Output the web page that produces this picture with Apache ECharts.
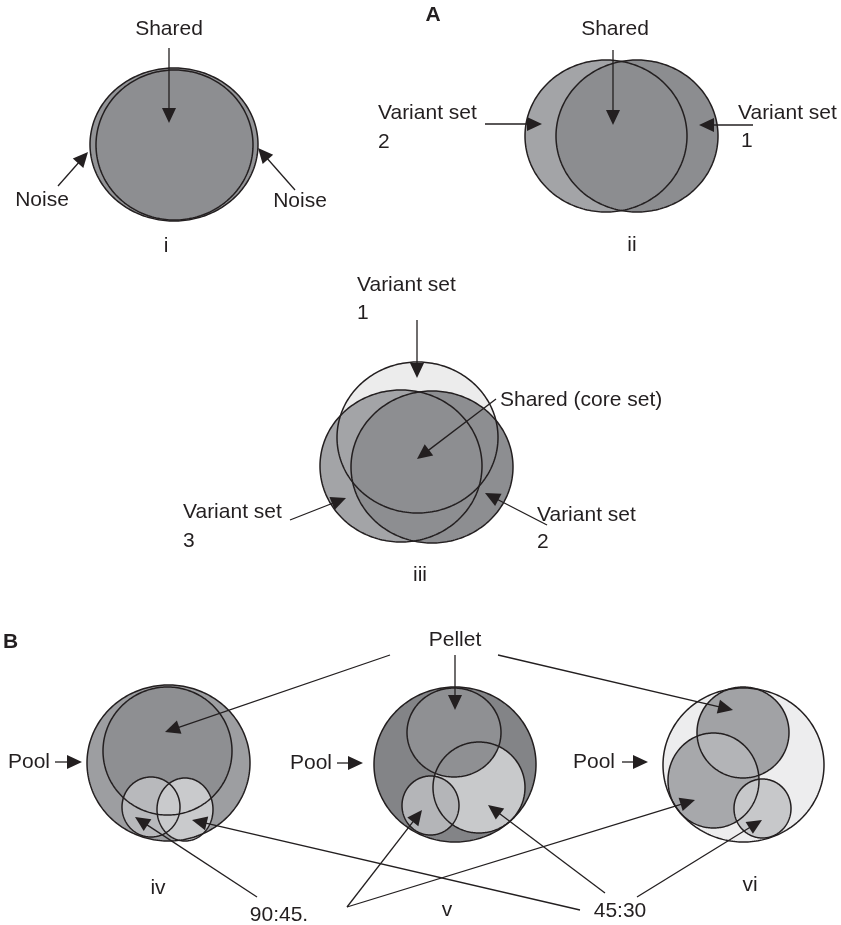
<!DOCTYPE html>
<html><head><meta charset="utf-8">
<script src="https://cdn.jsdelivr.net/npm/echarts@6/dist/echarts.min.js"></script>
<style>html,body{margin:0;padding:0;background:#fff}#c{width:841px;height:925px}</style>
</head><body><div id="c"></div>
<script>
// ---- data (diagram units = page pixels) ----
// sets: [cx, cy, rx, ry] in drawing order
const setsI   = [[174,144.5,84,76.5],[174.5,145,78.5,75]];
const setsII  = [[606,136,81,76],[637,136,81,76]];
const setsIII = [[417.5,437.5,80.5,75.5],[401,466,81,76],[432,467,81,76]];
const setsIV  = [[168.5,763,81.5,78],[167.5,751,64.5,64],[151,807,29,30],[185,809.5,28,31.5]];
const setsV   = [[455,764.5,81,77.5],[479,787.5,46,45.5],[430.5,805.5,28.5,29.5],[454,732.5,47,44.5]];
const setsVI  = [[743.5,765,80.5,77],[743,732.5,46,45.5],[713.5,780.5,45.5,47.5],[762.5,808.5,28.5,29.5]];
// overlap drawn in vi: indexes into setsVI
const lensVI = [1,2];

const fillsI   = ['#939497','#8d8e91'];
const fillsII  = ['#a3a4a7','#8c8d90'];
const fillsIII = ['#ececec','#a3a4a7','#8d8e91'];
const fillsIV  = ['#9d9ea1','#8e8f92','#b8b9bc','#c9cacc'];
const fillsV   = ['#838487','#c8c9cb','#b4b5b8','#8f9093'];
const fillsVI  = ['#ededee','#a1a2a5','#a7a8ab','#c7c8ca'];
const lensFill = '#b3b4b7';

// arrows: [x_tail, y_tail, x_tip, y_tip]
const arrows = [
  [169,48,169,123],[58,186,88,152],[295,190,258,148],
  [613,50,613,125],[485,124,542,124],[753,125,699,125],
  [417,320,417,378],[496,399,417,459],[290,520,346,498],[547,525,485,493],
  [55,762,82,762],[337,763,363,763],[622,762,648,762],
  [390,655,165,732],[455,655,455,710],[498,655,733,710],
  [257,897,135,817],[580,910,192,820],
  [347,907,422,810],[347,907,695,800],
  [605,893,488,805],[637,897,762,820]
];

// labels
const labelTexts = ['A','B','Shared','Noise','Noise','i',
  'Shared','Variant set','2','Variant set','1','ii',
  'Variant set','1','Shared (core set)','Variant set','3','Variant set','2','iii',
  'Pellet','Pool','Pool','Pool','iv','v','vi','90:45.','45:30'];
const labelPos = [[433,15],[3,642],[169,29],[42,200],[300,201],[166,246],
  [615,29],[378,113],[378,142],[738,113],[741,141],[632,245],
  [357,285],[357,313],[500,400],[183,512],[183,541],[537,515],[537,542],[420,575],
  [455,640],[8,762],[290,763],[573,762],[158,888],[447,910],[750,885],[279,915],[620,911]];
const labelAlign = ['center','left','center','center','center','center',
  'center','left','left','left','left','center',
  'left','left','left','left','left','left','left','center',
  'center','left','left','left','center','center','center','center','center'];
const labelBold = [true,true];

// ---- build ----
const allSets = [].concat(setsI,setsII,setsIII,setsIV,setsV,setsVI);
const allFills = [].concat(fillsI,fillsII,fillsIII,fillsIV,fillsV,fillsVI);
const INK = '#231f20';
const FONT = '"Liberation Sans", Arial, Helvetica, sans-serif';

function ellPoly(api, e){
  const pts=[]; const N=240;
  for(let k=0;k<N;k++){const t=k/N*2*Math.PI; pts.push(api.coord([e[0]+e[2]*Math.cos(t), e[1]+e[3]*Math.sin(t)]));}
  return pts;
}
function rayDist(p, d, e){
  const a=(d[0]/e[2])**2+(d[1]/e[3])**2;
  const ox=p[0]-e[0], oy=p[1]-e[1];
  const b=2*(ox*d[0]/(e[2]*e[2])+oy*d[1]/(e[3]*e[3]));
  const c=(ox/e[2])**2+(oy/e[3])**2-1;
  return (-b+Math.sqrt(b*b-4*a*c))/(2*a);
}
function lensPoly(api, e1, e2){
  const p=[(e1[0]+e2[0])/2,(e1[1]+e2[1])/2]; const pts=[]; const N=360;
  for(let k=0;k<N;k++){const t=k/N*2*Math.PI; const d=[Math.cos(t),Math.sin(t)];
    const r=Math.min(rayDist(p,d,e1),rayDist(p,d,e2));
    pts.push(api.coord([p[0]+r*d[0],p[1]+r*d[1]]));}
  return pts;
}

const chart = echarts.init(document.getElementById('c'), null, {renderer:'canvas'});
chart.setOption({
  animation:false,
  backgroundColor:'#fff',
  grid:{left:0,right:0,top:0,bottom:0},
  xAxis:{type:'value',min:0,max:841,show:false},
  yAxis:{type:'value',min:0,max:925,inverse:true,show:false},
  series:[
    {type:'custom', coordinateSystem:'cartesian2d', z:1,
     data: allSets.map((e,i)=>[e[0],e[1]]),
     renderItem:(params,api)=>({type:'polygon', shape:{points:ellPoly(api, allSets[params.dataIndex])},
        style:{fill:allFills[params.dataIndex], stroke:null}})},
    {type:'custom', coordinateSystem:'cartesian2d', z:2,
     data:[[setsVI[lensVI[0]][0],setsVI[lensVI[0]][1]]],
     renderItem:(params,api)=>({type:'polygon', shape:{points:lensPoly(api, setsVI[lensVI[0]], setsVI[lensVI[1]])},
        style:{fill:lensFill, stroke:null}})},
    {type:'custom', coordinateSystem:'cartesian2d', z:3,
     data: allSets.map((e,i)=>[e[0],e[1]]),
     renderItem:(params,api)=>({type:'polygon', shape:{points:ellPoly(api, allSets[params.dataIndex])},
        style:{fill:null, stroke:INK, lineWidth:1.5}})},
    {type:'custom', coordinateSystem:'cartesian2d', z:4,
     data: arrows.map(a=>[a[0],a[1],a[2],a[3]]),
     renderItem:(params,api)=>{
       const a=arrows[params.dataIndex];
       const p0=api.coord([a[0],a[1]]), p1=api.coord([a[2],a[3]]);
       const dx=p1[0]-p0[0], dy=p1[1]-p0[1], L=Math.hypot(dx,dy);
       const ux=dx/L, uy=dy/L, hl=15, hw=7;
       const bx=p1[0]-ux*hl, by=p1[1]-uy*hl;
       return {type:'group', children:[
         {type:'line', shape:{x1:p0[0],y1:p0[1],x2:bx+ux*2,y2:by+uy*2}, style:{stroke:INK,lineWidth:1.3}},
         {type:'polygon', shape:{points:[[p1[0],p1[1]],[bx-uy*hw,by+ux*hw],[bx+uy*hw,by-ux*hw]]}, style:{fill:INK}}
       ]};
     }},
    {type:'custom', coordinateSystem:'cartesian2d', z:5,
     data: labelPos.map(p=>[p[0],p[1]]),
     renderItem:(params,api)=>{
       const i=params.dataIndex; const p=api.coord(labelPos[i]);
       return {type:'text', x:p[0], y:p[1], style:{text:labelTexts[i], fill:INK,
         font:(labelBold[i]?'bold ':'')+'21px '+FONT, align:labelAlign[i], verticalAlign:'middle'}};
     }}
  ]
});
</script></body></html>
